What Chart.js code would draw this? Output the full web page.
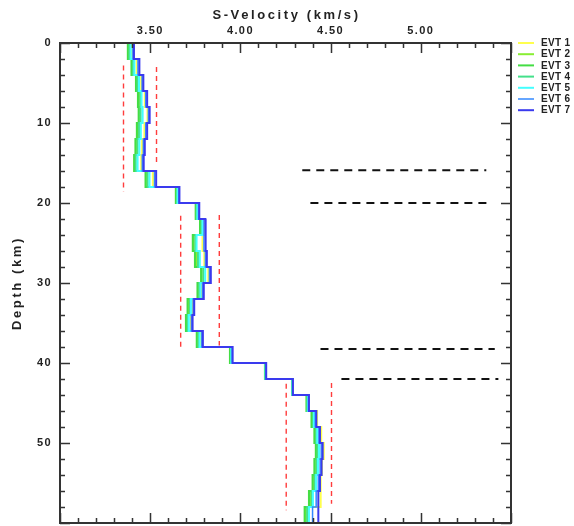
<!DOCTYPE html>
<html>
<head>
    <title>S-Velocity profiles</title>
    <script src="https://cdn.jsdelivr.net/npm/chart.js"></script>
    <style>
        html, body { margin: 0; padding: 0; background: white; }
        #wrap { width: 574px; height: 526px; }
    </style>
</head>
<body>
    <div id="wrap"><canvas id="velChart" width="574" height="526"></canvas></div>
    <script>
        // layer boundaries (km), 2 km layers down to 60 km
        const depthEdges = [0, 2, 4, 6, 8, 10, 12, 14, 16, 18, 20, 22, 24, 26, 28, 30,
            32, 34, 36, 38, 40, 42, 44, 46, 48, 50, 52, 54, 56, 58, 60];

        // shear velocity (km/s) of each layer, one array per event
        const evt1 = [3.398, 3.425, 3.450, 3.470, 3.485, 3.468, 3.455, 3.450, 3.515, 3.655,
            3.768, 3.802, 3.790, 3.800, 3.822, 3.785, 3.735, 3.725, 3.782, 3.952,
            4.141, 4.290, 4.378, 4.425, 4.448, 4.462, 4.452, 4.445, 4.445, 4.360];
        const evt2 = [3.380, 3.400, 3.424, 3.438, 3.440, 3.430, 3.424, 3.414, 3.478, 3.645,
            3.755, 3.779, 3.741, 3.754, 3.786, 3.766, 3.712, 3.702, 3.762, 3.945,
            4.138, 4.287, 4.370, 4.398, 4.414, 4.423, 4.416, 4.405, 4.386, 4.362];
        const evt3 = [3.376, 3.396, 3.421, 3.432, 3.436, 3.426, 3.418, 3.411, 3.474, 3.642,
            3.752, 3.776, 3.736, 3.748, 3.782, 3.762, 3.707, 3.698, 3.758, 3.942,
            4.136, 4.286, 4.366, 4.394, 4.410, 4.418, 4.410, 4.400, 4.380, 4.356];
        const evt4 = [3.385, 3.405, 3.430, 3.445, 3.448, 3.438, 3.430, 3.420, 3.486, 3.650,
            3.758, 3.785, 3.750, 3.765, 3.795, 3.772, 3.720, 3.708, 3.768, 3.948,
            4.139, 4.288, 4.372, 4.403, 4.420, 4.428, 4.422, 4.412, 4.395, 4.370];
        const evt5 = [3.392, 3.412, 3.438, 3.452, 3.458, 3.448, 3.440, 3.430, 3.496, 3.652,
            3.762, 3.790, 3.757, 3.775, 3.805, 3.779, 3.726, 3.714, 3.774, 3.950,
            4.140, 4.289, 4.374, 4.408, 4.426, 4.436, 4.430, 4.420, 4.402, 4.380];
        const evt6 = [3.404, 3.432, 3.455, 3.475, 3.490, 3.475, 3.462, 3.456, 3.524, 3.658,
            3.768, 3.798, 3.798, 3.806, 3.828, 3.790, 3.738, 3.728, 3.786, 3.954,
            4.142, 4.290, 4.377, 4.415, 4.435, 4.448, 4.442, 4.432, 4.420, 4.400];
        const evt7 = [3.410, 3.440, 3.462, 3.483, 3.497, 3.483, 3.470, 3.464, 3.533, 3.662,
            3.772, 3.806, 3.808, 3.814, 3.836, 3.797, 3.744, 3.735, 3.792, 3.957,
            4.143, 4.291, 4.380, 4.421, 4.441, 4.456, 4.450, 4.441, 4.432, 4.432];

        const eventNames = ['EVT 1', 'EVT 2', 'EVT 3', 'EVT 4', 'EVT 5', 'EVT 6', 'EVT 7'];
        const eventVels = [evt1, evt2, evt3, evt4, evt5, evt6, evt7];
        const eventColors = ['#ffff4d', '#88ee33', '#44dd44', '#44e08a', '#44ffff', '#3388ff', '#3a3aee'];

        // red dashed velocity bounds: velocity, top and bottom depth
        const boundVel = [3.352, 3.535, 3.669, 3.883, 4.254, 4.505];
        const boundTop = [2.8, 3.0, 21.6, 21.5, 42.6, 42.5];
        const boundBot = [18.6, 15.1, 38.4, 37.8, 58.4, 57.6];

        // black dashed interface marks: depth, velocity start and end
        const markDepth = [15.9, 20.0, 38.25, 42.0];
        const markFrom = [4.343, 4.388, 4.444, 4.560];
        const markTo = [5.363, 5.370, 5.410, 5.430];

        const xTicks = [3.5, 4.0, 4.5, 5.0];
        const yTicks = [0, 10, 20, 30, 40, 50];

        const FONT = "'Liberation Sans', Arial, sans-serif";
        const INK = '#222';

        function stepPoints(vel) {
            const pts = [];
            vel.forEach((v, i) => {
                pts.push({ x: v, y: depthEdges[i] }, { x: v, y: depthEdges[i + 1] });
            });
            return pts;
        }

        const datasets = [];
        eventVels.forEach((vel, i) => {
            datasets.push({
                label: eventNames[i],
                data: stepPoints(vel),
                borderColor: eventColors[i],
                borderWidth: i === 5 ? 1.5 : 2,
                showLine: true,
                pointRadius: 0,
                order: 7 - i,
                isEvent: true
            });
        });
        boundVel.forEach((v, i) => {
            datasets.push({
                data: [{ x: v, y: boundTop[i] }, { x: v, y: boundBot[i] }],
                borderColor: 'rgba(255, 40, 40, 0.9)',
                borderWidth: 1.4,
                borderDash: [5, 4],
                showLine: true,
                pointRadius: 0,
                order: 20
            });
        });
        markDepth.forEach((d, i) => {
            datasets.push({
                data: [{ x: markFrom[i], y: d }, { x: markTo[i], y: d }],
                borderColor: '#111',
                borderWidth: 2,
                borderDash: [8, 6],
                showLine: true,
                pointRadius: 0,
                order: 20
            });
        });

        // frame with inward ticks, axis titles and the event key
        const framePlugin = {
            id: 'framePlugin',
            beforeDraw(chart) {
                chart.ctx.letterSpacing = '1.4px';
            },
            afterDraw(chart) {
                const { ctx, chartArea: a, scales: { x, y } } = chart;
                ctx.save();
                ctx.strokeStyle = '#333';
                ctx.lineWidth = 1.5;
                ctx.beginPath();
                for (let v = 3.0; v <= 5.5001; v += 0.1) {
                    const px = Math.round(x.getPixelForValue(v)) + 0.5;
                    const major = Math.abs(v * 2 - Math.round(v * 2)) < 1e-6;
                    const len = major ? 10 : 5;
                    ctx.moveTo(px, a.top); ctx.lineTo(px, a.top + len);
                    ctx.moveTo(px, a.bottom); ctx.lineTo(px, a.bottom - len);
                }
                for (let d = 0; d <= 60; d += 2) {
                    const py = Math.round(y.getPixelForValue(d)) + 0.5;
                    const len = d % 10 === 0 ? 10 : 5;
                    ctx.moveTo(a.left, py); ctx.lineTo(a.left + len, py);
                    ctx.moveTo(a.right, py); ctx.lineTo(a.right - len, py);
                }
                ctx.stroke();
                ctx.lineWidth = 2;
                ctx.strokeRect(a.left, a.top, a.right - a.left, a.bottom - a.top);

                // axis titles
                ctx.fillStyle = INK;
                ctx.font = 'bold 13px ' + FONT;
                ctx.letterSpacing = '2.6px';
                ctx.textAlign = 'center';
                ctx.textBaseline = 'middle';
                ctx.fillText('S-Velocity (km/s)', (a.left + a.right) / 2 + 1, 15);
                ctx.save();
                ctx.translate(17, (a.top + a.bottom) / 2);
                ctx.rotate(-Math.PI / 2);
                ctx.fillText('Depth (km)', 0, 0);
                ctx.restore();

                // event key
                ctx.letterSpacing = '0.3px';
                ctx.font = 'bold 10px ' + FONT;
                ctx.textAlign = 'left';
                let row = 0;
                chart.data.datasets.forEach(ds => {
                    if (!ds.isEvent) return;
                    const ry = 43 + row * 11.2;
                    ctx.strokeStyle = ds.borderColor;
                    ctx.lineWidth = ds.borderWidth;
                    ctx.beginPath();
                    ctx.moveTo(518, ry); ctx.lineTo(534, ry);
                    ctx.stroke();
                    ctx.fillStyle = INK;
                    ctx.fillText(ds.label, 541, ry + 0.5);
                    row++;
                });
                ctx.restore();
            }
        };

        new Chart(document.getElementById('velChart'), {
            type: 'scatter',
            data: { datasets: datasets },
            options: {
                responsive: false,
                animation: false,
                layout: { padding: { left: 0, top: 0, right: 63, bottom: 3 } },
                plugins: { legend: { display: false }, tooltip: { enabled: false } },
                scales: {
                    x: {
                        type: 'linear',
                        position: 'top',
                        min: 3.0,
                        max: 5.5,
                        grid: { display: false, drawTicks: false },
                        border: { display: false },
                        afterBuildTicks(s) { s.ticks = xTicks.map(v => ({ value: v })); },
                        afterFit(s) {
                            s.height = 43;
                            s.paddingLeft = 0; s.paddingRight = 0;
                        },
                        ticks: {
                            padding: 5,
                            color: INK,
                            font: { family: FONT, size: 11, weight: 'bold' },
                            callback: v => v.toFixed(2)
                        }
                    },
                    y: {
                        type: 'linear',
                        reverse: true,
                        min: 0,
                        max: 60,
                        grid: { display: false, drawTicks: false },
                        border: { display: false },
                        afterBuildTicks(s) { s.ticks = yTicks.map(v => ({ value: v })); },
                        afterFit(s) {
                            s.width = 60;
                            s.paddingTop = 0; s.paddingBottom = 0;
                        },
                        ticks: {
                            padding: 8,
                            color: INK,
                            font: { family: FONT, size: 11, weight: 'bold' },
                            callback: v => String(v)
                        }
                    }
                }
            },
            plugins: [framePlugin]
        });
    </script>
</body>
</html>
